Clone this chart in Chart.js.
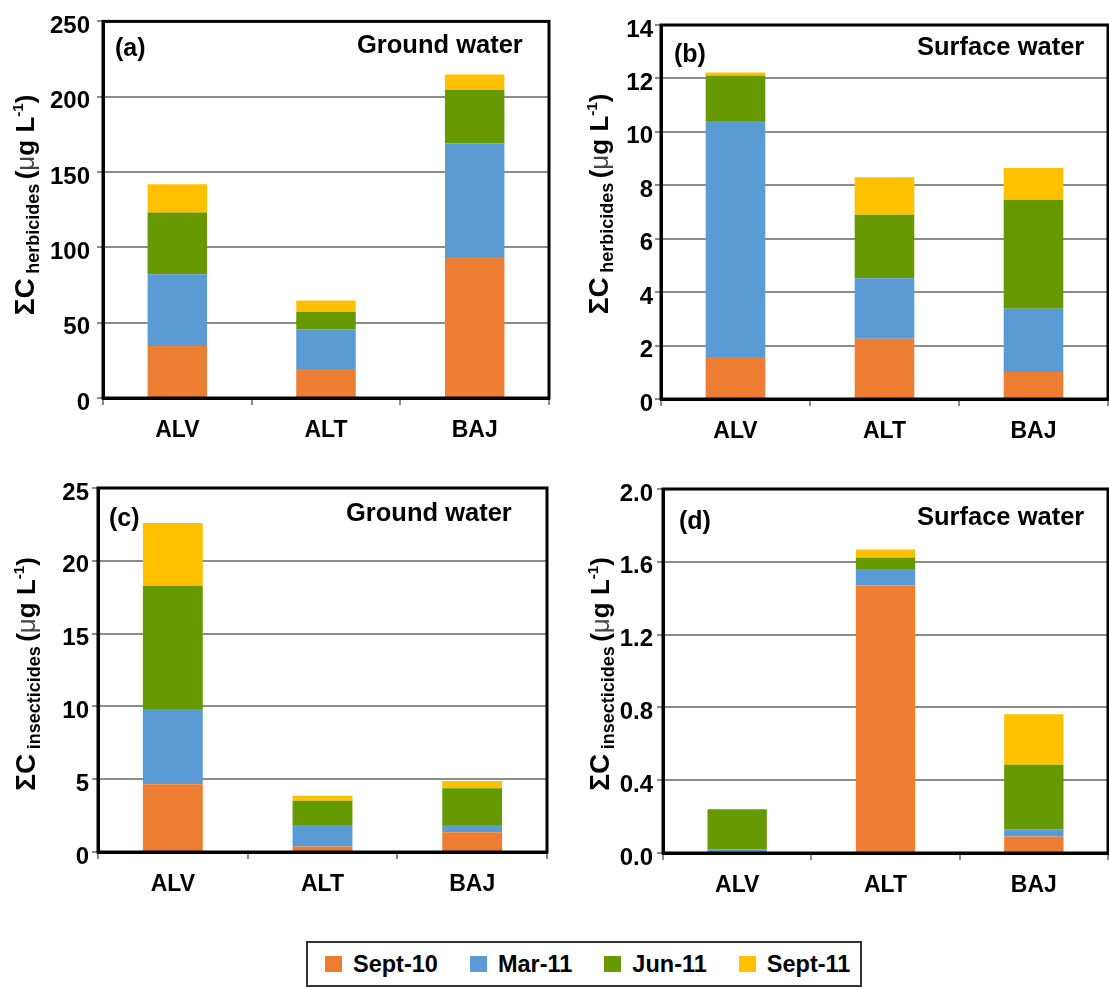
<!DOCTYPE html>
<html lang="en">
<head>
    <meta charset="UTF-8">
    <title>Herbicides and insecticides in ground and surface water</title>
    <style>
        body {
            margin: 0;
            background: #fff;
            font-family: 'Liberation Sans', Arial, sans-serif;
        }
        #wrap {
            position: relative;
            width: 1109px;
            height: 989px;
            background: #fff;
        }
        canvas {
            position: absolute;
        }
        .tag, .site {
            position: absolute;
            font-weight: bold;
            font-size: 25px;
            line-height: 1;
            color: #000;
            transform: translateY(-50%);
            white-space: nowrap;
        }
        .site { font-size: 25.5px; }
        .ytitle {
            position: absolute;
            font-weight: bold;
            color: #000;
            white-space: nowrap;
            transform: translate(-50%, -50%) rotate(-90deg);
            line-height: 1;
        }
        .ytitle .big { font-size: 28px; }
        .ytitle .sub { font-size: 18px; vertical-align: -5px; }
        .ytitle .unit { font-size: 26px; }
        .ytitle .mu { font-weight: normal; color: #444; }
        .ytitle sup { font-size: 15px; vertical-align: 11px; }
        #legend {
            position: absolute;
            left: 306px;
            top: 941px;
            height: 42px;
            border: 2px solid #333;
            display: flex;
            align-items: center;
            padding: 0 10px 0 17px;
            gap: 32px;
        }
        .item {
            display: flex;
            align-items: center;
            font-weight: bold;
            font-size: 23.5px;
        }
        .swatch {
            width: 17px;
            height: 16px;
            margin-right: 11px;
        }
    </style>
</head>
<body>
<div id="wrap">
    <canvas id="chartA" width="560" height="460" style="left:0;top:0"></canvas>
    <canvas id="chartB" width="549" height="460" style="left:560px;top:0"></canvas>
    <canvas id="chartC" width="560" height="460" style="left:0;top:460px"></canvas>
    <canvas id="chartD" width="549" height="460" style="left:560px;top:460px"></canvas>

    <div class="tag" style="left:115px;top:47px">(a)</div>
    <div class="site" style="left:357px;top:45px">Ground water</div>
    <div class="tag" style="left:674px;top:53px">(b)</div>
    <div class="site" style="left:917px;top:47px">Surface water</div>
    <div class="tag" style="left:109px;top:517px">(c)</div>
    <div class="site" style="left:346px;top:513px">Ground water</div>
    <div class="tag" style="left:679px;top:520px">(d)</div>
    <div class="site" style="left:917px;top:517px">Surface water</div>

    <div class="ytitle" style="left:26px;top:205px"><span class="big">ΣC</span> <span class="sub">herbicides</span> <span class="unit">(<span class="mu">μ</span>g L<sup>-1</sup>)</span></div>
    <div class="ytitle" style="left:600px;top:204px"><span class="big">ΣC</span> <span class="sub">herbicides</span> <span class="unit">(<span class="mu">μ</span>g L<sup>-1</sup>)</span></div>
    <div class="ytitle" style="left:27px;top:674px"><span class="big">ΣC</span> <span class="sub">insecticides</span> <span class="unit">(<span class="mu">μ</span>g L<sup>-1</sup>)</span></div>
    <div class="ytitle" style="left:601px;top:674px"><span class="big">ΣC</span> <span class="sub">insecticides</span> <span class="unit">(<span class="mu">μ</span>g L<sup>-1</sup>)</span></div>

    <div id="legend"></div>
</div>

<script src="https://cdn.jsdelivr.net/npm/chart.js"></script>
<script>
    const categories = ['ALV', 'ALT', 'BAJ'];
    const seriesNames = ['Sept-10', 'Mar-11', 'Jun-11', 'Sept-11'];
    const seriesColors = ['#ED7D31', '#5B9BD5', '#669900', '#FFC000'];

    // (a) herbicides, ground water
    const herbGroundSept10 = [34.5, 19.2, 93.6];
    const herbGroundMar11 = [47.7, 26.3, 75.4];
    const herbGroundJun11 = [40.9, 11.6, 35.5];
    const herbGroundSept11 = [18.8, 7.6, 10.3];
    const herbGroundTicks = [0, 50, 100, 150, 200, 250];

    // (b) herbicides, surface water
    const herbSurfaceSept10 = [1.57, 2.26, 1.01];
    const herbSurfaceMar11 = [8.84, 2.26, 2.37];
    const herbSurfaceJun11 = [1.70, 2.38, 4.08];
    const herbSurfaceSept11 = [0.11, 1.40, 1.19];
    const herbSurfaceTicks = [0, 2, 4, 6, 8, 10, 12, 14];

    // (c) insecticides, ground water
    const insGroundSept10 = [4.66, 0.38, 1.36];
    const insGroundMar11 = [5.16, 1.48, 0.50];
    const insGroundJun11 = [8.47, 1.66, 2.52];
    const insGroundSept11 = [4.30, 0.34, 0.50];
    const insGroundTicks = [0, 5, 10, 15, 20, 25];

    // (d) insecticides, surface water
    const insSurfaceSept10 = [0, 1.47, 0.09];
    const insSurfaceMar11 = [0.02, 0.09, 0.04];
    const insSurfaceJun11 = [0.22, 0.064, 0.355];
    const insSurfaceSept11 = [0, 0.044, 0.277];
    const insSurfaceTicks = [0, 0.4, 0.8, 1.2, 1.6, 2.0];

    const fontFamily = "'Liberation Sans', Arial, sans-serif";

    // black frame round the plot area, drawn over the bars
    const frame = {
        id: 'frame',
        afterDatasetsDraw(chart) {
            const { ctx, chartArea: a } = chart;
            ctx.save();
            ctx.strokeStyle = '#000';
            ctx.lineWidth = 3;
            ctx.strokeRect(a.left, a.top, a.right - a.left, a.bottom - a.top);
            ctx.restore();
        }
    };

    function makePanel(id, series, ticks, decimals, box) {
        const canvas = document.getElementById(id);
        const W = canvas.width, H = canvas.height;
        new Chart(canvas, {
            type: 'bar',
            data: {
                labels: categories,
                datasets: series.map((values, i) => ({
                    label: seriesNames[i],
                    data: values,
                    backgroundColor: seriesColors[i],
                    borderWidth: 0,
                    categoryPercentage: 1,
                    barPercentage: 0.4
                }))
            },
            options: {
                responsive: false,
                animation: false,
                layout: { padding: { left: 0, top: box.top, right: W - box.right, bottom: 0 } },
                plugins: { legend: { display: false }, tooltip: { enabled: false } },
                scales: {
                    x: {
                        stacked: true,
                        grid: { drawOnChartArea: false, drawTicks: true, tickLength: 7, color: '#8c8c8c', lineWidth: 2, offset: true },
                        border: { color: '#000', width: 3 },
                        ticks: { color: '#000', padding: 12, maxRotation: 0, font: { family: fontFamily, size: 23, weight: 'bold' } },
                        afterFit: s => { s.height = H - box.bottom; }
                    },
                    y: {
                        stacked: true,
                        min: ticks[0],
                        max: ticks[ticks.length - 1],
                        afterBuildTicks: s => { s.ticks = ticks.map(v => ({ value: v })); },
                        grid: { color: '#8c8c8c', lineWidth: 2, tickLength: 6 },
                        border: { color: '#000', width: 3 },
                        ticks: {
                            color: '#000',
                            padding: box.pad,
                            labelOffset: 5,
                            font: { family: fontFamily, size: 24, weight: 'bold' },
                            callback: v => Number(v).toFixed(decimals)
                        },
                        afterFit: s => { s.width = box.left; }
                    }
                }
            },
            plugins: [frame]
        });
    }

    makePanel('chartA', [herbGroundSept10, herbGroundMar11, herbGroundJun11, herbGroundSept11],
        herbGroundTicks, 0, { left: 103, top: 19, right: 549, bottom: 398, pad: 7 });
    makePanel('chartB', [herbSurfaceSept10, herbSurfaceMar11, herbSurfaceJun11, herbSurfaceSept11],
        herbSurfaceTicks, 0, { left: 101, top: 25, right: 548, bottom: 399, pad: 2 });
    makePanel('chartC', [insGroundSept10, insGroundMar11, insGroundJun11, insGroundSept11],
        insGroundTicks, 0, { left: 98, top: 28, right: 547, bottom: 392, pad: 3 });
    makePanel('chartD', [insSurfaceSept10, insSurfaceMar11, insSurfaceJun11, insSurfaceSept11],
        insSurfaceTicks, 1, { left: 103, top: 29, right: 548, bottom: 393, pad: 4 });

    // shared legend under the four panels
    const legend = document.getElementById('legend');
    seriesNames.forEach((name, i) => {
        const item = document.createElement('div');
        item.className = 'item';
        item.innerHTML = '<span class="swatch" style="background:' + seriesColors[i] + '"></span>' + name;
        legend.appendChild(item);
    });
</script>
</body>
</html>
